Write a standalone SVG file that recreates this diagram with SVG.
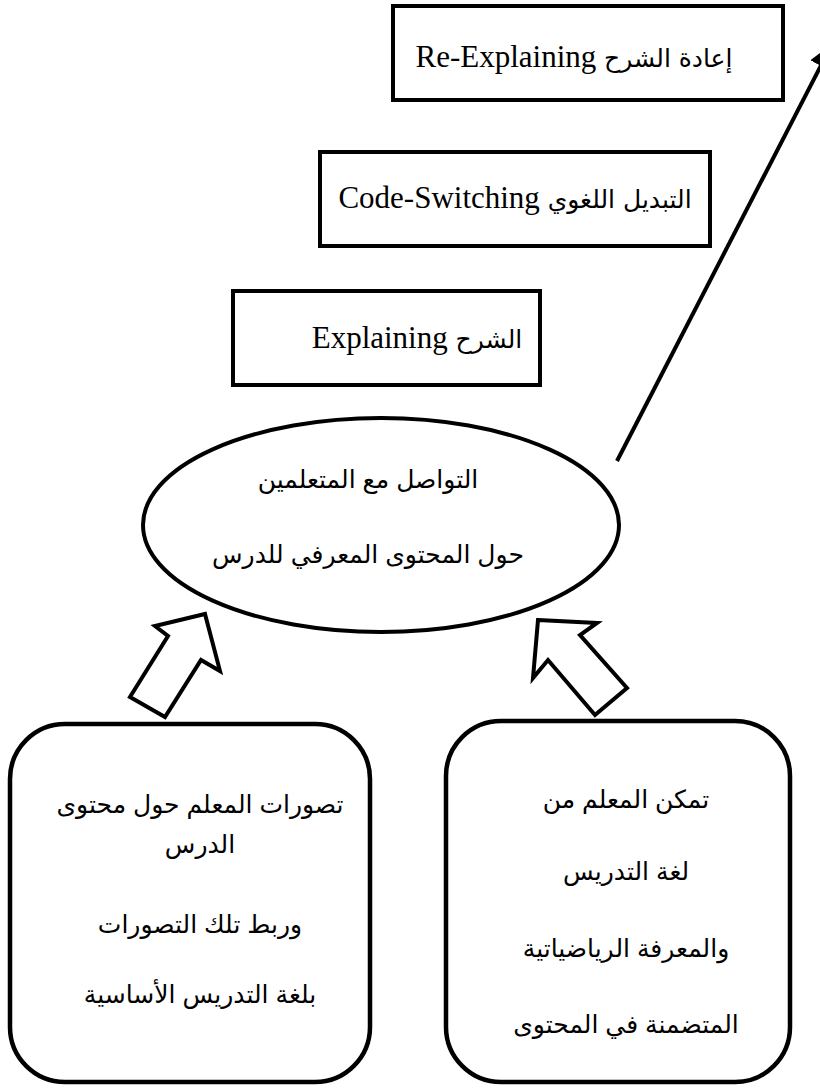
<svg xmlns="http://www.w3.org/2000/svg" width="820" height="1088" viewBox="0 0 820 1088">
<style>
.box{fill:#fff;stroke:#000;stroke-width:4}
.rbox{fill:#fff;stroke:#000;stroke-width:4.5}
.lbl{font-family:"Liberation Serif","DejaVu Sans",serif;font-size:31px;fill:#000;text-anchor:middle}
.lbl .a{font-family:"DejaVu Sans",sans-serif;font-size:25px}
.ar{font-family:"Liberation Sans","DejaVu Sans",sans-serif;font-size:25px;fill:#000;text-anchor:middle}
.conn{fill:none;stroke:#000;stroke-width:4}
.blk{fill:#fff;stroke:#000;stroke-width:4;stroke-linejoin:miter}
</style>
<defs>
<marker id="ah" markerWidth="6" markerHeight="6" refX="5" refY="3" orient="auto" markerUnits="strokeWidth">
<path d="M0,0 L6,3 L0,6 z" fill="#000"/>
</marker>
</defs>
<rect width="820" height="1088" fill="#fff"/>
<g id="connectors">
<line class="conn" x1="617" y1="461" x2="830" y2="48" marker-end="url(#ah)"/>
<polygon class="blk" points="205,614 220,671 201,660 165,717 130,697 168,636 155,626"/>
<polygon class="blk" points="538,620 597,623 580,635 627,688 595,715 548,660 533,678"/>
</g>
<g id="reexplaining">
<rect class="box" x="393" y="6" width="390" height="94"/>
<text class="lbl" x="574" y="67" direction="rtl"><tspan class="a">إعادة الشرح</tspan> Re-Explaining</text>
</g>
<g id="codeswitching">
<rect class="box" x="320" y="152" width="390" height="94"/>
<text class="lbl" x="515" y="208" direction="rtl"><tspan class="a">التبديل اللغوي</tspan> Code-Switching</text>
</g>
<g id="explaining">
<rect class="box" x="233" y="291" width="307" height="94"/>
<text class="lbl" x="417" y="348" direction="rtl"><tspan class="a">الشرح</tspan> Explaining</text>
</g>
<g id="communication">
<ellipse class="box" cx="381" cy="525" rx="238" ry="107"/>
<text class="ar" x="368" y="488" direction="rtl">التواصل مع المتعلمين</text>
<text class="ar" x="368" y="563" direction="rtl">حول المحتوى المعرفي للدرس</text>
</g>
<g id="perceptions">
<rect class="rbox" x="10" y="724" width="360" height="358" rx="55" ry="55"/>
<text class="ar" x="200" y="813" direction="rtl">تصورات المعلم حول محتوى</text>
<text class="ar" x="200" y="853" direction="rtl">الدرس</text>
<text class="ar" x="200" y="933" direction="rtl">وربط تلك التصورات</text>
<text class="ar" x="200" y="1003" direction="rtl">بلغة التدريس الأساسية</text>
</g>
<g id="mastery">
<rect class="rbox" x="446" y="721" width="344" height="361" rx="55" ry="55"/>
<text class="ar" x="626" y="808" direction="rtl">تمكن المعلم من</text>
<text class="ar" x="626" y="880" direction="rtl">لغة التدريس</text>
<text class="ar" x="626" y="957" direction="rtl">والمعرفة الرياضياتية</text>
<text class="ar" x="626" y="1033" direction="rtl">المتضمنة في المحتوى</text>
</g>
</svg>
